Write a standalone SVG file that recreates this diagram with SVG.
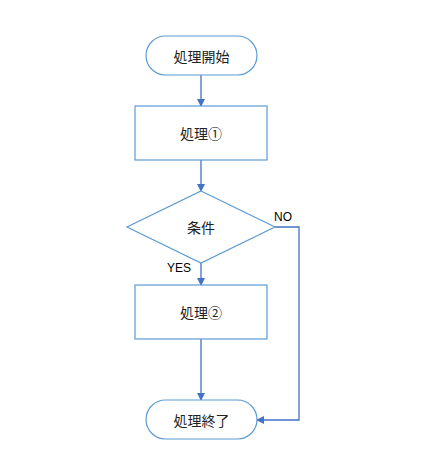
<svg xmlns="http://www.w3.org/2000/svg" width="429" height="458" viewBox="0 0 429 458">
<defs>
<style>
.shape{fill:#fff;stroke:#5B9BD5;stroke-width:1.2}
.lbl{font-family:"Noto Sans CJK JP","Noto Sans CJK SC",sans-serif;font-size:14px;fill:#222;text-anchor:middle;dominant-baseline:central}
.edge{fill:none;stroke:#4472C4;stroke-width:1.3}
.elbl{font-family:"Liberation Sans",Arial,sans-serif;font-size:12px;fill:#000}
</style>
<marker id="arr" markerWidth="8" markerHeight="8" refX="7" refY="4" orient="auto" markerUnits="userSpaceOnUse">
<path d="M0,0 L8,4 L0,8 Z" fill="#4472C4"/>
</marker>
</defs>
<rect width="429" height="458" fill="#fff"/>
<g id="connectors">
<line class="edge" x1="201" y1="75" x2="201" y2="106" marker-end="url(#arr)"/>
<line class="edge" x1="201" y1="160" x2="201" y2="191" marker-end="url(#arr)"/>
<line class="edge" x1="201" y1="263" x2="201" y2="285" marker-end="url(#arr)"/>
<line class="edge" x1="201" y1="339" x2="201" y2="400" marker-end="url(#arr)"/>
<polyline class="edge" points="275,227 299,227 299,420 257,420" marker-end="url(#arr)"/>
<text class="elbl" x="274" y="221">NO</text>
<text class="elbl" x="167" y="272">YES</text>
</g>
<g id="start">
<rect class="shape" x="146" y="36" width="111" height="39" rx="19.5"/>
<text class="lbl" x="201.5" y="55.5">処理開始</text>
</g>
<g id="proc1">
<rect class="shape" x="135" y="106" width="132" height="54"/>
<text class="lbl" x="201" y="133">処理①</text>
</g>
<g id="cond">
<polygon class="shape" points="201,191 275,227 201,263 127,227"/>
<text class="lbl" x="201" y="227">条件</text>
</g>
<g id="proc2">
<rect class="shape" x="135" y="285" width="132" height="54"/>
<text class="lbl" x="201" y="312">処理②</text>
</g>
<g id="end">
<rect class="shape" x="146" y="400" width="111" height="39" rx="19.5"/>
<text class="lbl" x="201.5" y="419.5">処理終了</text>
</g>
</svg>
